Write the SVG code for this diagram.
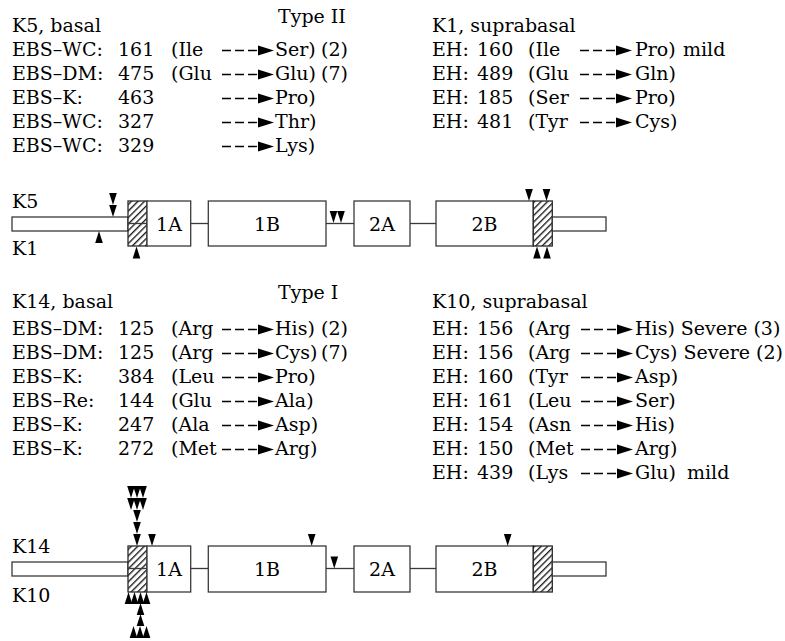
<svg xmlns="http://www.w3.org/2000/svg" xmlns:xlink="http://www.w3.org/1999/xlink" width="785" height="641" viewBox="0 0 785 641">
<style>
.t{font-family:"DejaVu Serif","Liberation Serif",serif;font-size:19px;fill:#000}
.c{text-anchor:middle}
.box{fill:#fff;stroke:#3a3a3a;stroke-width:1.3}
.hat{fill:url(#hatch);stroke:#2a2a2a;stroke-width:1.3}
.ln{stroke:#3a3a3a;stroke-width:1.3;fill:none}
</style>
<defs>
<pattern id="hatch" patternUnits="userSpaceOnUse" width="4.6" height="10" patternTransform="rotate(45)">
<rect width="4.6" height="10" fill="#fff"/>
<line x1="0.7" y1="0" x2="0.7" y2="10" stroke="#111" stroke-width="1.3"/>
</pattern>
<g id="arr"><line x1="0" y1="0" x2="35" y2="0" stroke="#000" stroke-width="1.3" stroke-dasharray="9 4"/><polygon points="36,-5 52,0 36,5" fill="#000"/></g>
<path id="dn" d="M-3.8,0 L3.8,0 L0,12 Z" fill="#000"/>
<path id="up" d="M0,0 L3.8,12 L-3.8,12 Z" fill="#000"/>
</defs>

<!-- Top text blocks -->
<g id="k5-list" class="t">
<text x="12" y="32">K5, basal</text>
<text x="278" y="23">Type II</text>
<text x="12" y="56">EBS–WC:</text><text x="118" y="56">161</text><text x="171" y="56">(Ile</text><text x="275" y="56">Ser)</text><text x="321" y="56">(2)</text>
<text x="12" y="80">EBS–DM:</text><text x="118" y="80">475</text><text x="171" y="80">(Glu</text><text x="275" y="80">Glu)</text><text x="321" y="80">(7)</text>
<text x="12" y="104">EBS–K:</text><text x="118" y="104">463</text><text x="275" y="104">Pro)</text>
<text x="12" y="128">EBS–WC:</text><text x="118" y="128">327</text><text x="275" y="128">Thr)</text>
<text x="12" y="152">EBS–WC:</text><text x="118" y="152">329</text><text x="275" y="152">Lys)</text>
<use href="#arr" x="222" y="50.5"/><use href="#arr" x="222" y="74.5"/><use href="#arr" x="222" y="98.5"/><use href="#arr" x="222" y="122.5"/><use href="#arr" x="222" y="146.5"/>
</g>
<g id="k1-list" class="t">
<text x="432" y="32">K1, suprabasal</text>
<text x="432" y="56">EH:</text><text x="477" y="56">160</text><text x="528" y="56">(Ile</text><text x="635" y="56">Pro)</text><text x="683" y="56">mild</text>
<text x="432" y="80">EH:</text><text x="477" y="80">489</text><text x="528" y="80">(Glu</text><text x="635" y="80">Gln)</text>
<text x="432" y="104">EH:</text><text x="477" y="104">185</text><text x="528" y="104">(Ser</text><text x="635" y="104">Pro)</text>
<text x="432" y="128">EH:</text><text x="477" y="128">481</text><text x="528" y="128">(Tyr</text><text x="635" y="128">Cys)</text>
<use href="#arr" x="580" y="50.5"/><use href="#arr" x="580" y="74.5"/><use href="#arr" x="580" y="98.5"/><use href="#arr" x="580" y="122.5"/>
</g>

<!-- Top protein (K5 / K1) -->
<g id="top-labels" class="t"><text x="12" y="208">K5</text><text x="12" y="255">K1</text></g>
<g id="connectors">
<line class="ln" x1="190.7" y1="223.5" x2="208.3" y2="223.5"/>
<line class="ln" x1="326" y1="223.5" x2="354" y2="223.5"/>
<line class="ln" x1="410" y1="223.5" x2="436" y2="223.5"/>
<line class="ln" x1="190.7" y1="568.5" x2="208.3" y2="568.5"/>
<line class="ln" x1="326" y1="568.5" x2="354" y2="568.5"/>
<line class="ln" x1="410" y1="568.5" x2="436" y2="568.5"/>
</g>
<g id="top-head"><rect class="box" x="12" y="217" width="116" height="14"/></g>
<g id="top-h1"><rect class="hat" x="128" y="201" width="19" height="45"/><line class="ln" x1="128" y1="223.5" x2="147" y2="223.5"/></g>
<g id="top-1A"><rect class="box" x="147" y="201" width="43.7" height="45"/><text class="t c" x="169" y="231">1A</text></g>
<g id="top-1B"><rect class="box" x="208.3" y="201" width="117.7" height="45"/><text class="t c" x="267" y="231">1B</text></g>
<g id="top-2A"><rect class="box" x="354" y="201" width="56" height="45"/><text class="t c" x="382" y="231">2A</text></g>
<g id="top-2B"><rect class="box" x="436" y="201" width="97.3" height="45"/><text class="t c" x="484.5" y="231">2B</text></g>
<g id="top-h2"><rect class="hat" x="533.3" y="201" width="19" height="45"/></g>
<g id="top-tail"><rect class="box" x="552.3" y="217" width="53.7" height="14"/></g>
<g id="top-markers">
<use href="#dn" x="113" y="193"/><use href="#dn" x="113" y="205"/>
<use href="#dn" x="333.5" y="211"/><use href="#dn" x="341" y="211"/>
<use href="#dn" x="529" y="189"/><use href="#dn" x="546.5" y="189"/>
<use href="#up" x="99" y="231"/>
<use href="#up" x="136.5" y="246.5"/>
<use href="#up" x="537" y="246.5"/><use href="#up" x="547" y="246.5"/>
</g>

<!-- Bottom text blocks -->
<g id="k14-list" class="t">
<text x="12" y="308">K14, basal</text>
<text x="278" y="299">Type I</text>
<text x="12" y="335">EBS–DM:</text><text x="118" y="335">125</text><text x="171" y="335">(Arg</text><text x="275" y="335">His)</text><text x="321" y="335">(2)</text>
<text x="12" y="359">EBS–DM:</text><text x="118" y="359">125</text><text x="171" y="359">(Arg</text><text x="275" y="359">Cys)</text><text x="321" y="359">(7)</text>
<text x="12" y="383">EBS–K:</text><text x="118" y="383">384</text><text x="171" y="383">(Leu</text><text x="275" y="383">Pro)</text>
<text x="12" y="407">EBS–Re:</text><text x="118" y="407">144</text><text x="171" y="407">(Glu</text><text x="275" y="407">Ala)</text>
<text x="12" y="431">EBS–K:</text><text x="118" y="431">247</text><text x="171" y="431">(Ala</text><text x="275" y="431">Asp)</text>
<text x="12" y="455">EBS–K:</text><text x="118" y="455">272</text><text x="171" y="455">(Met</text><text x="275" y="455">Arg)</text>
<use href="#arr" x="222" y="329.5"/><use href="#arr" x="222" y="353.5"/><use href="#arr" x="222" y="377.5"/><use href="#arr" x="222" y="401.5"/><use href="#arr" x="222" y="425.5"/><use href="#arr" x="222" y="449.5"/>
</g>
<g id="k10-list" class="t">
<text x="432" y="308">K10, suprabasal</text>
<text x="432" y="335">EH:</text><text x="477" y="335">156</text><text x="528" y="335">(Arg</text><text x="635" y="335">His) Severe (3)</text>
<text x="432" y="359">EH:</text><text x="477" y="359">156</text><text x="528" y="359">(Arg</text><text x="635" y="359">Cys) Severe (2)</text>
<text x="432" y="383">EH:</text><text x="477" y="383">160</text><text x="528" y="383">(Tyr</text><text x="635" y="383">Asp)</text>
<text x="432" y="407">EH:</text><text x="477" y="407">161</text><text x="528" y="407">(Leu</text><text x="635" y="407">Ser)</text>
<text x="432" y="431">EH:</text><text x="477" y="431">154</text><text x="528" y="431">(Asn</text><text x="635" y="431">His)</text>
<text x="432" y="455">EH:</text><text x="477" y="455">150</text><text x="528" y="455">(Met</text><text x="635" y="455">Arg)</text>
<text x="432" y="479">EH:</text><text x="477" y="479">439</text><text x="528" y="479">(Lys</text><text x="635" y="479">Glu)</text><text x="687" y="479">mild</text>
<use href="#arr" x="581" y="329.5"/><use href="#arr" x="581" y="353.5"/><use href="#arr" x="581" y="377.5"/><use href="#arr" x="581" y="401.5"/><use href="#arr" x="581" y="425.5"/><use href="#arr" x="581" y="449.5"/><use href="#arr" x="581" y="473.5"/>
</g>

<!-- Bottom protein (K14 / K10) -->
<g id="bot-labels" class="t"><text x="12" y="553">K14</text><text x="12" y="602">K10</text></g>
<g id="bot-head"><rect class="box" x="12" y="562" width="116" height="14"/></g>
<g id="bot-h1"><rect class="hat" x="128" y="546" width="19" height="46"/><line class="ln" x1="128" y1="568.5" x2="147" y2="568.5"/></g>
<g id="bot-1A"><rect class="box" x="147" y="546" width="43.7" height="46"/><text class="t c" x="169" y="576">1A</text></g>
<g id="bot-1B"><rect class="box" x="208.3" y="546" width="117.7" height="46"/><text class="t c" x="267" y="576">1B</text></g>
<g id="bot-2A"><rect class="box" x="354" y="546" width="56" height="46"/><text class="t c" x="382" y="576">2A</text></g>
<g id="bot-2B"><rect class="box" x="436" y="546" width="97.3" height="46"/><text class="t c" x="484.5" y="576">2B</text></g>
<g id="bot-h2"><rect class="hat" x="533.3" y="546" width="19" height="46"/></g>
<g id="bot-tail"><rect class="box" x="552.3" y="562" width="53.7" height="14"/></g>
<g id="bot-markers">
<use href="#dn" x="131" y="486"/><use href="#dn" x="137" y="486"/><use href="#dn" x="143" y="486"/>
<use href="#dn" x="131" y="498"/><use href="#dn" x="137" y="498"/><use href="#dn" x="143" y="498"/>
<use href="#dn" x="137" y="510"/><use href="#dn" x="137" y="522"/><use href="#dn" x="137" y="534"/>
<use href="#dn" x="152" y="534"/>
<use href="#dn" x="311.7" y="534"/>
<use href="#dn" x="334.3" y="556.5"/>
<use href="#dn" x="507.7" y="534"/>
<use href="#up" x="128.5" y="592"/><use href="#up" x="134.5" y="592"/><use href="#up" x="140.5" y="592"/><use href="#up" x="146.5" y="592"/>
<use href="#up" x="140.5" y="603"/><use href="#up" x="140.5" y="614"/>
<use href="#up" x="133.5" y="626"/><use href="#up" x="140" y="626"/><use href="#up" x="146.5" y="626"/>
</g>
</svg>
